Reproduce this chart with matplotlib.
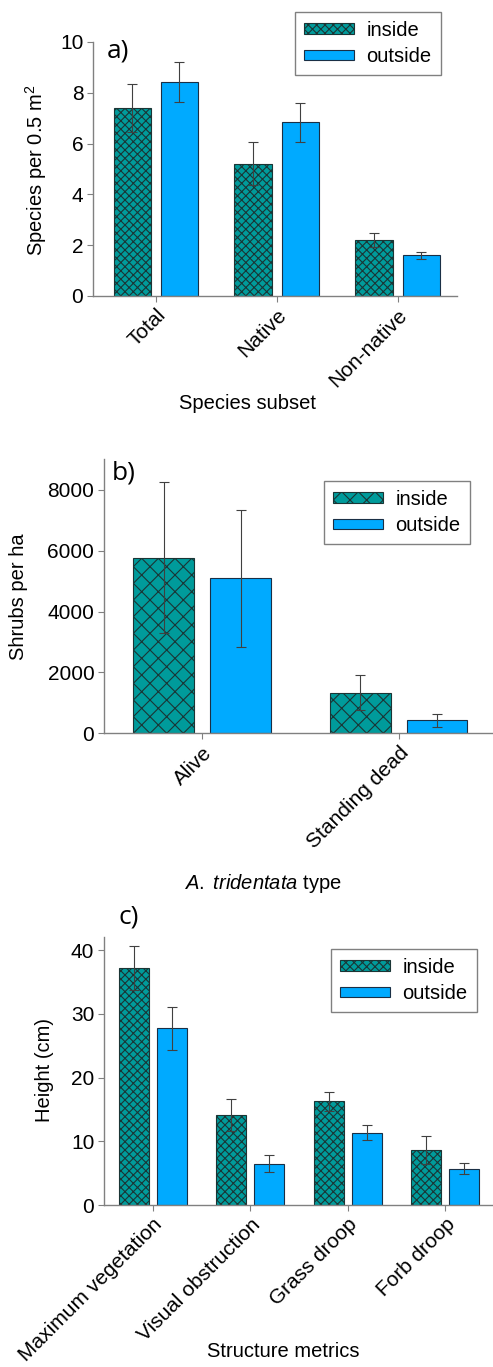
import numpy as np
import matplotlib.pyplot as plt

plt.rcParams['font.family'] = ['Liberation Sans', 'DejaVu Sans']
plt.rcParams['mathtext.fontset'] = 'custom'
plt.rcParams['mathtext.rm'] = 'Liberation Sans'
plt.rcParams['mathtext.it'] = 'Liberation Sans:italic'
plt.rcParams['hatch.linewidth'] = 0.8

# a) species richness
cats_a = ['Total', 'Native', 'Non-native']
in_a = [7.4, 5.2, 2.2]
in_a_err = [0.95, 0.85, 0.27]
out_a = [8.42, 6.84, 1.6]
out_a_err = [0.8, 0.77, 0.15]

# b) shrub density
cats_b = ['Alive', 'Standing dead']
in_b = [5770, 1330]
in_b_err = [2480, 570]
out_b = [5090, 426]
out_b_err = [2240, 217]

# c) structure
cats_c = ['Maximum vegetation', 'Visual obstruction', 'Grass droop', 'Forb droop']
in_c = [37.2, 14.1, 16.3, 8.6]
in_c_err = [3.5, 2.5, 1.5, 2.2]
out_c = [27.7, 6.5, 11.35, 5.7]
out_c_err = [3.35, 1.3, 1.15, 0.9]

teal = '#009b9b'
blue = '#00aaff'
w = 0.31
off = 0.195


def panel(ax, cats, ins, ins_e, outs, outs_e, hatch):
    x = np.arange(len(cats))
    ax.bar(x - off, ins, w, color=teal, edgecolor='#1a3535', hatch=hatch, lw=0.8, label='inside')
    ax.bar(x + off, outs, w, color=blue, edgecolor='#1a2f45', lw=0.8, label='outside')
    ax.errorbar(x - off, ins, yerr=ins_e, fmt='none', ecolor='#404040', elinewidth=0.8, capsize=3.5, capthick=0.8)
    ax.errorbar(x + off, outs, yerr=outs_e, fmt='none', ecolor='#404040', elinewidth=0.8, capsize=3.5, capthick=0.8)
    ax.set_xticks(x)
    ax.set_xticklabels(cats, rotation=45, ha='right', rotation_mode='anchor', fontsize=15)
    ax.tick_params(axis='y', labelsize=15, length=4, color='#808080', pad=3)
    ax.tick_params(axis='x', length=4, color='#808080', pad=3)
    for s in ['top', 'right']:
        ax.spines[s].set_visible(False)
    for s in ['left', 'bottom']:
        ax.spines[s].set_color('#808080')
        ax.spines[s].set_linewidth(1)


def leg(ax, anchor):
    ax.legend(loc='upper left', bbox_to_anchor=anchor, bbox_transform=fig.transFigure,
              fontsize=14.5, fancybox=False, edgecolor='#808080', framealpha=1,
              handlelength=2.5, handleheight=0.45, handletextpad=0.6,
              labelspacing=0.35, borderpad=0.45, borderaxespad=0)


fig = plt.figure(figsize=(4.93, 13.67), dpi=100)

ax_a = fig.add_axes([0.1886, 0.7835, 0.7384, 0.1858])
panel(ax_a, cats_a, in_a, in_a_err, out_a, out_a_err, 'xxxx')
ax_a.set_xlim(-0.52, 2.49)
ax_a.set_ylim(0, 10)
ax_a.set_yticks([0, 2, 4, 6, 8, 10])
ax_a.set_ylabel('Species per 0.5 m$^2$', fontsize=14.5)
ax_a.yaxis.set_label_coords(49 / 493, 1 - 170 / 1367, transform=fig.transFigure)
ax_a.set_xlabel('Species subset', fontsize=14.5)
ax_a.xaxis.set_label_coords(247 / 493, 1 - 394 / 1367, transform=fig.transFigure)
leg(ax_a, (295 / 493, 1 - 12 / 1367))
fig.text(107 / 493, 1 - 51 / 1367, 'a)', fontsize=19, family='Open Sans', va='center')

ax_b = fig.add_axes([0.211, 0.4636, 0.789, 0.2004])
panel(ax_b, cats_b, in_b, in_b_err, out_b, out_b_err, 'xx')
ax_b.set_xlim(-0.5, 1.48)
ax_b.set_ylim(0, 9000)
ax_b.set_yticks([0, 2000, 4000, 6000, 8000])
ax_b.set_ylabel('Shrubs per ha', fontsize=14.5)
ax_b.yaxis.set_label_coords(28 / 493, 1 - 597 / 1367, transform=fig.transFigure)
ax_b.set_xlabel(r'$\mathit{A.\ tridentata}$ type', fontsize=14.5)
ax_b.xaxis.set_label_coords(263 / 493, 1 - 872 / 1367, transform=fig.transFigure)
leg(ax_b, (324 / 493, 1 - 481 / 1367))
fig.text(112 / 493, 1 - 473 / 1367, 'b)', fontsize=19, family='Open Sans', va='center')

ax_c = fig.add_axes([0.211, 0.1185, 0.789, 0.1958])
panel(ax_c, cats_c, in_c, in_c_err, out_c, out_c_err, 'xxxx')
ax_c.set_xlim(-0.5, 3.49)
ax_c.set_ylim(0, 42)
ax_c.set_yticks([0, 10, 20, 30, 40])
ax_c.set_ylabel('Height (cm)', fontsize=14.5)
ax_c.yaxis.set_label_coords(54 / 493, 1 - 1070 / 1367, transform=fig.transFigure)
ax_c.set_xlabel('Structure metrics', fontsize=14.5)
ax_c.xaxis.set_label_coords(283 / 493, 1 - 1342 / 1367, transform=fig.transFigure)
leg(ax_c, (331 / 493, 1 - 949 / 1367))
fig.text(118 / 493, 1 - 917 / 1367, 'c)', fontsize=19, family='Open Sans', va='center')

fig.savefig('out.png', dpi=100)
